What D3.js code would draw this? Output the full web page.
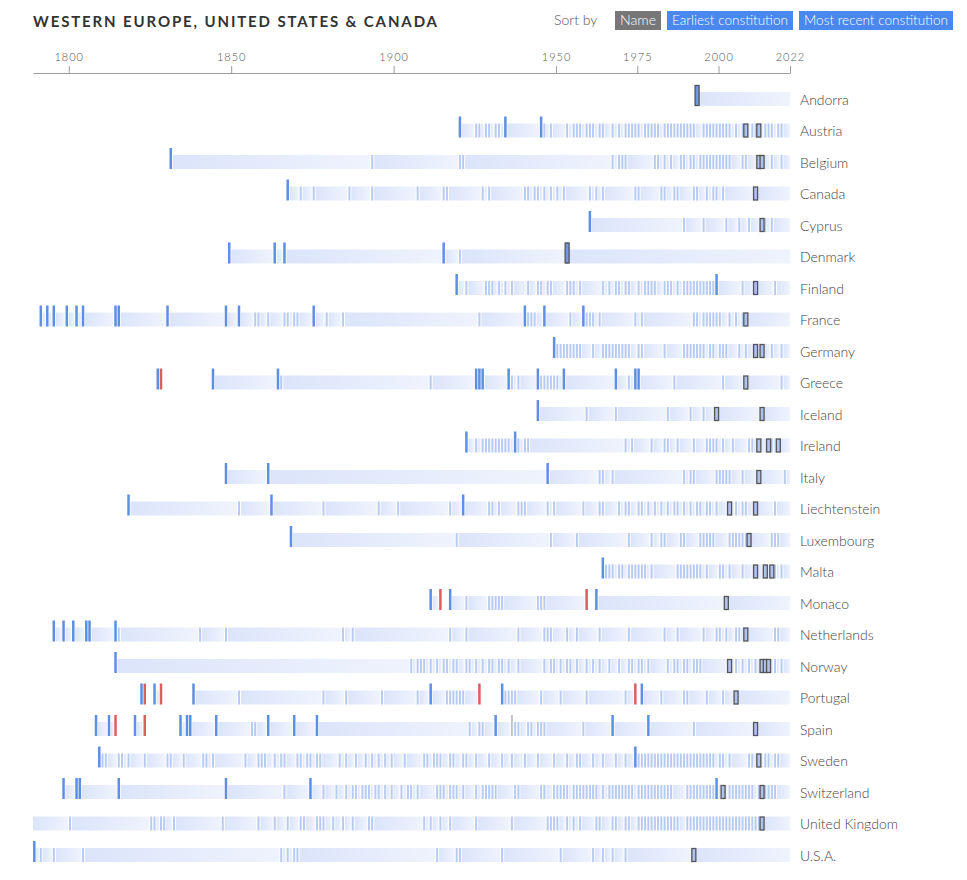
<!DOCTYPE html>
<html lang="en">
<head>
<meta charset="utf-8" />
<title>Constitutions – Western Europe, United States &amp; Canada</title>
<script src="https://d3js.org/d3.v7.min.js"></script>
<style>
  body { margin: 0; background: #fff; font-family: Lato, "Open Sans", sans-serif; }
  svg  { display: block; }
  .axis path, .axis line { stroke: #9c9c9c; }
  .axis text { font-family: Lato, sans-serif; font-size: 11px; font-weight: 300; letter-spacing: 1px; fill: #555; }
  text.country { font-size: 14px; font-weight: 300; fill: #444; }
  text.title { font-size: 15px; font-weight: 700; fill: #333; }
  text.sortby { font-size: 14px; font-weight: 300; fill: #555; }
  text.btn { font-size: 13px; font-weight: 300; fill: #fff; }
</style>
</head>
<body>
<svg id="chart" width="967" height="880"></svg>
<script>
// ---- data (years) ----
const countries = ["Andorra","Austria","Belgium","Canada","Cyprus","Denmark","Finland","France",
  "Germany","Greece","Iceland","Ireland","Italy","Liechtenstein","Luxembourg","Malta","Monaco",
  "Netherlands","Norway","Portugal","Spain","Sweden","Switzerland","United Kingdom","U.S.A."];

// new constitutions (dark blue marks)
const newConstitutions = [
  [1993],
  [1920,1934,1945],
  [1831],
  [1867],
  [1960],
  [1849,1863,1866,1915,1953],
  [1919,1999],
  [1791,1793,1795,1799,1802,1804,1814,1815,1830,1848,1852,1875,1940,1946,1958],
  [1949],
  [1827,1844,1864,1925,1926,1927,1935,1944,1952,1968,1974,1975],
  [1944],
  [1922,1937],
  [1848,1861,1947],
  [1818,1862,1921],
  [1868],
  [1964],
  [1911,1917,1962],
  [1795,1798,1801,1805,1806,1814],
  [1814],
  [1822,1826,1838,1911,1933,1976],
  [1808,1812,1820,1834,1836,1837,1845,1861,1869,1876,1931,1967,1978],
  [1809,1974],
  [1798,1802,1803,1815,1848,1874,1999],
  [],
  [1789]
];

// amendments (light blue marks)
const amendments = [
  [],
  [1925,1926,1928,1929,1931,1932,1946,1948,1953,1955,1956,1957,1959,1960,1961,1963,1964,1967,1969,
   1971,1972,1973,1974,1975,1977,1978,1979,1980,1981,1983,1984,1985,1986,1987,1988,1989,1990,1991,1992,
   1995,1996,1997,1998,1999,2000,2001,2002,2003,2005,2007,2010,2011,2014,2015,2016,2018,2019],
  [1893,1920,1921,1967,1969,1970,1971,1980,1981,1983,1985,1988,1989,1991,1992,1994,1995,1996,1997,
   1998,1999,2000,2001,2002,2003,2007,2008,2016,2019],
  [1871,1875,1886,1893,1907,1915,1916,1927,1929,1940,1941,1943,1944,1946,1948,1950,1952,1960,1962,
   1964,1974,1975,1982,1983,1986,1987,1992,1993,1996,1998,1999,2001],
  [1989,1995,2002,2006,2009,2014,2016],
  [1920],
  [1922,1928,1929,1930,1932,1934,1936,1941,1944,1945,1947,1948,1953,1954,1955,1957,1964,1966,1968,
   1969,1971,1972,1975,1977,1978,1979,1980,1983,1984,1985,1987,1989,1990,1991,1992,1993,1994,1995,
   1996,1997,1998,2007,2017],
  [1857,1858,1861,1866,1867,1869,1870,1879,1884,1926,1941,1942,1943,1954,1959,1960,1961,1963,1974,
   1976,1992,1993,1995,1996,1997,1998,1999,2000,2003,2005,2007],
  [1950,1951,1952,1953,1954,1955,1956,1957,1961,1964,1965,1966,1967,1968,1969,1970,1971,1972,1975,
   1976,1983,1989,1990,1991,1992,1993,1994,1995,1997,1998,2000,2001,2002,2006,2008,2016,2019],
  [1865,1911,1936,1938,1945,1946,1947,1948,1949,1950,1972,1986,2001,2019],
  [1959,1968,1984,1991,1995],
  [1925,1927,1928,1929,1930,1931,1932,1933,1934,1935,1938,1940,1941,1971,1973,1979,1983,1984,1987,
   1992,1996,1997,1998,1999,2001,2004,2009,2010,2016],
  [1963,1964,1967,1989,1991,1992,1999,2000,2001,2002,2003,2007,2020],
  [1852,1878,1895,1901,1917,1929,1930,1932,1938,1939,1940,1947,1949,1958,1963,1964,1969,1971,1972,
   1975,1976,1978,1980,1982,1984,1986,1987,1989,1991,1993,1994,1996,1997,1999,2005,2007,2008,2017],
  [1919,1948,1956,1972,1979,1982,1983,1988,1989,1994,1995,1996,1997,1998,2003,2004,2005,2006,2007,
   2008,2016,2017,2018],
  [1965,1966,1967,1969,1970,1972,1973,1974,1975,1976,1977,1979,1987,1988,1989,1990,1991,1992,1993,
   1994,1996,2000,2001,2003,2007,2017,2019],
  [1922,1929,1930,1931,1932,1933,1944,1945,1946],
  [1815,1840,1848,1884,1887,1917,1922,1938,1946,1947,1948,1953,1956,1963,1972,1983,1987,1995,1999,
   2000,2002,2005,2006,2017,2018],
  [1905,1907,1908,1909,1911,1913,1915,1916,1918,1919,1922,1923,1925,1927,1929,1930,1932,1933,1935,
   1938,1946,1948,1949,1951,1953,1954,1956,1959,1961,1963,1966,1969,1972,1973,1975,1976,1978,1984,
   1986,1987,1989,1990,1992,1993,1994,2005,2007,2009,2011,2017,2019],
  [1852,1878,1885,1896,1907,1916,1917,1918,1919,1920,1921,1934,1935,1936,1937,1945,1951,1959,1971,
   1982,1989,1990,1996,2001],
  [1856,1857,1923,1926,1927,1937,1938,1941,1942,1944,1945,1946,1958,1992],
  [1810,1811,1815,1816,1818,1823,1830,1831,1835,1841,1842,1844,1854,1858,1859,1860,1863,1865,1866,
   1870,1871,1873,1874,1876,1877,1883,1885,1888,1891,1893,1895,1897,1899,1903,1909,1910,1912,1913,
   1914,1917,1918,1921,1922,1925,1929,1933,1936,1940,1944,1949,1953,1956,1957,1961,1964,1968,1971,
   1975,1976,1977,1978,1979,1980,1981,1982,1983,1984,1985,1986,1987,1988,1989,1990,1991,1992,1993,
   1994,1995,1996,1997,1998,2000,2001,2003,2009,2010,2014,2015,2017,2018],
  [1866,1878,1882,1885,1887,1888,1890,1891,1892,1894,1895,1897,1899,1902,1904,1905,1907,1913,1914,
   1915,1917,1918,1919,1921,1925,1927,1928,1929,1930,1931,1937,1938,1945,1946,1949,1950,1951,1952,
   1953,1955,1956,1957,1958,1959,1960,1961,1962,1964,1966,1967,1968,1969,1970,1971,1972,1973,1975,
   1976,1977,1978,1979,1980,1981,1982,1983,1984,1985,1990,1991,1992,1993,1994,1995,1996,1997,1998,
   2003,2004,2005,2006,2007,2008,2009,2010,2012,2014,2015,2016,2017],
  [1800,1825,1826,1828,1829,1832,1847,1858,1863,1867,1871,1872,1876,1877,1878,1881,1884,1887,1892,
   1893,1909,1911,1914,1917,1925,1936,1947,1948,1949,1950,1953,1955,1957,1962,1963,1967,1968,1971,
   1972,1975,1976,1977,1978,1979,1980,1981,1982,1983,1984,1985,1986,1987,1990,1991,1992,1993,1994,
   1995,1996,1997,1998,1999,2000,2001,2002,2003,2004,2005,2006,2007,2008,2009,2010,2011,2012],
  [1791,1795,1804,1865,1867,1869,1870,1913,1919,1920,1933,1951,1961,1964,1967,1971]
];

// suspensions (red marks) and other events (grey marks)
const suspensions = [[],[],[],[],[],[],[],[],[],[1828],[],[],[],[],[],[],[1914,1959],[],[],
  [1823,1828,1926,1974],[1814,1823],[],[],[],[]];
const otherEvents = [[],[],[],[],[],[],[],[],[],[],[],[],[],[],[],[],[],[],[],[],[1936],[],[],[],[]];

// outlined marks
const highlighted = [[1993],[2008,2012],[2012,2013],[2011],[2013],[1953],[2011],[2008],[2011,2013],
  [2008],[1999,2013],[2012,2015,2018],[2012],[2003,2011],[2009],[2011,2014,2016],[2002],[2008],
  [2003,2013,2014,2015],[2005],[2011],[2012],[2001,2013],[2013],[1992]];

const axisYears = [1800,1850,1900,1950,1975,2000,2022];
const sortButtons = ["Name","Earliest constitution","Most recent constitution"];

// ---- layout ----
const svg = d3.select("#chart");
const x = d3.scaleLinear().domain([1789, 2022]).range([33, 790]);
const y = d3.scalePoint().domain(countries).range([99, 855]);
const cx = yr => x(yr + 0.4);

const defs = svg.append("defs");
const grad = defs.append("linearGradient").attr("id", "seg");
grad.append("stop").attr("offset", "0%").attr("stop-color", "#dbe4fa");
grad.append("stop").attr("offset", "100%").attr("stop-color", "#eff3fd");

// title + sort buttons
svg.append("text").attr("class", "title")
  .attr("x", 33).attr("y", 27)
  .attr("textLength", 404).attr("lengthAdjust", "spacing")
  .text("WESTERN EUROPE, UNITED STATES & CANADA");

svg.append("text").attr("class", "sortby").attr("x", 554).attr("y", 25).text("Sort by");
const btnX = [615, 667, 799], btnW = [46, 126, 154];
const btn = svg.append("g").selectAll("g").data(sortButtons).join("g")
  .attr("transform", (d, i) => `translate(${btnX[i]},11)`);
btn.append("rect").attr("width", (d, i) => btnW[i]).attr("height", 19)
  .attr("fill", (d, i) => i === 0 ? "#777" : "#4a88ee");
btn.append("text").attr("class", "btn")
  .attr("x", (d, i) => btnW[i] / 2).attr("y", 14).attr("text-anchor", "middle")
  .attr("textLength", (d, i) => btnW[i] - 10).attr("lengthAdjust", "spacingAndGlyphs")
  .text(d => d);

// axis
svg.append("g").attr("class", "axis")
  .attr("transform", "translate(0,73)")
  .call(d3.axisTop(x).tickValues(axisYears).tickFormat(d3.format("d"))
    .tickSize(7).tickSizeOuter(0).tickPadding(5));

// rows
const rows = svg.append("g").selectAll("g.row").data(countries).join("g")
  .attr("class", "row")
  .attr("transform", d => `translate(0,${y(d)})`);

rows.each(function (name, i) {
  const g = d3.select(this);
  const red = new Set(suspensions[i]), nw = new Set(newConstitutions[i]);
  const years = Array.from(new Set([].concat(newConstitutions[i], amendments[i], suspensions[i],
    otherEvents[i], highlighted[i]))).sort(d3.ascending);

  // bar segments between marks; a suspension cuts the bar until the next constitution
  const segs = [];
  let active = nw.size === 0, from = x.range()[0];
  years.forEach(yr => {
    if (active) segs.push([from, cx(yr) - 2]);
    if (red.has(yr)) active = false;
    if (nw.has(yr)) active = true;
    from = cx(yr) + 2;
  });
  if (active) segs.push([from, x(2022)]);

  g.selectAll("rect.seg").data(segs.filter(s => s[1] - s[0] > 0.3)).join("rect")
    .attr("class", "seg")
    .attr("x", d => d[0]).attr("width", d => d[1] - d[0])
    .attr("y", -7).attr("height", 14).attr("fill", "url(#seg)");

  g.selectAll("rect.am").data(amendments[i]).join("rect").attr("class", "am")
    .attr("x", d => cx(d) - 1).attr("width", 2).attr("y", -7).attr("height", 14)
    .attr("fill", "#b7caf2");

  g.selectAll("rect.oth").data(otherEvents[i]).join("rect").attr("class", "oth")
    .attr("x", d => cx(d) - 1).attr("width", 2).attr("y", -14).attr("height", 21)
    .attr("fill", "#c4c4c4");

  g.selectAll("rect.nw").data(newConstitutions[i]).join("rect").attr("class", "nw")
    .attr("x", d => cx(d) - 1.25).attr("width", 2.5).attr("y", -14).attr("height", 21)
    .attr("fill", "#5d8fe4");

  g.selectAll("rect.sus").data(suspensions[i]).join("rect").attr("class", "sus")
    .attr("x", d => cx(d) - 1.25).attr("width", 2.5).attr("y", -14).attr("height", 21)
    .attr("fill", "#d9605e");

  g.selectAll("rect.hl").data(highlighted[i]).join("rect").attr("class", "hl")
    .attr("x", d => cx(d) - 2).attr("width", 4)
    .attr("y", d => nw.has(d) ? -13.5 : -6.5).attr("height", d => nw.has(d) ? 20 : 13)
    .attr("fill", d => nw.has(d) ? "#7199e3" : "#aec2f0")
    .attr("stroke", "#555").attr("stroke-width", 1.3);

  g.append("text").attr("class", "country")
    .attr("x", 800).attr("dy", "0.42em").text(name);
});
</script>
</body>
</html>
